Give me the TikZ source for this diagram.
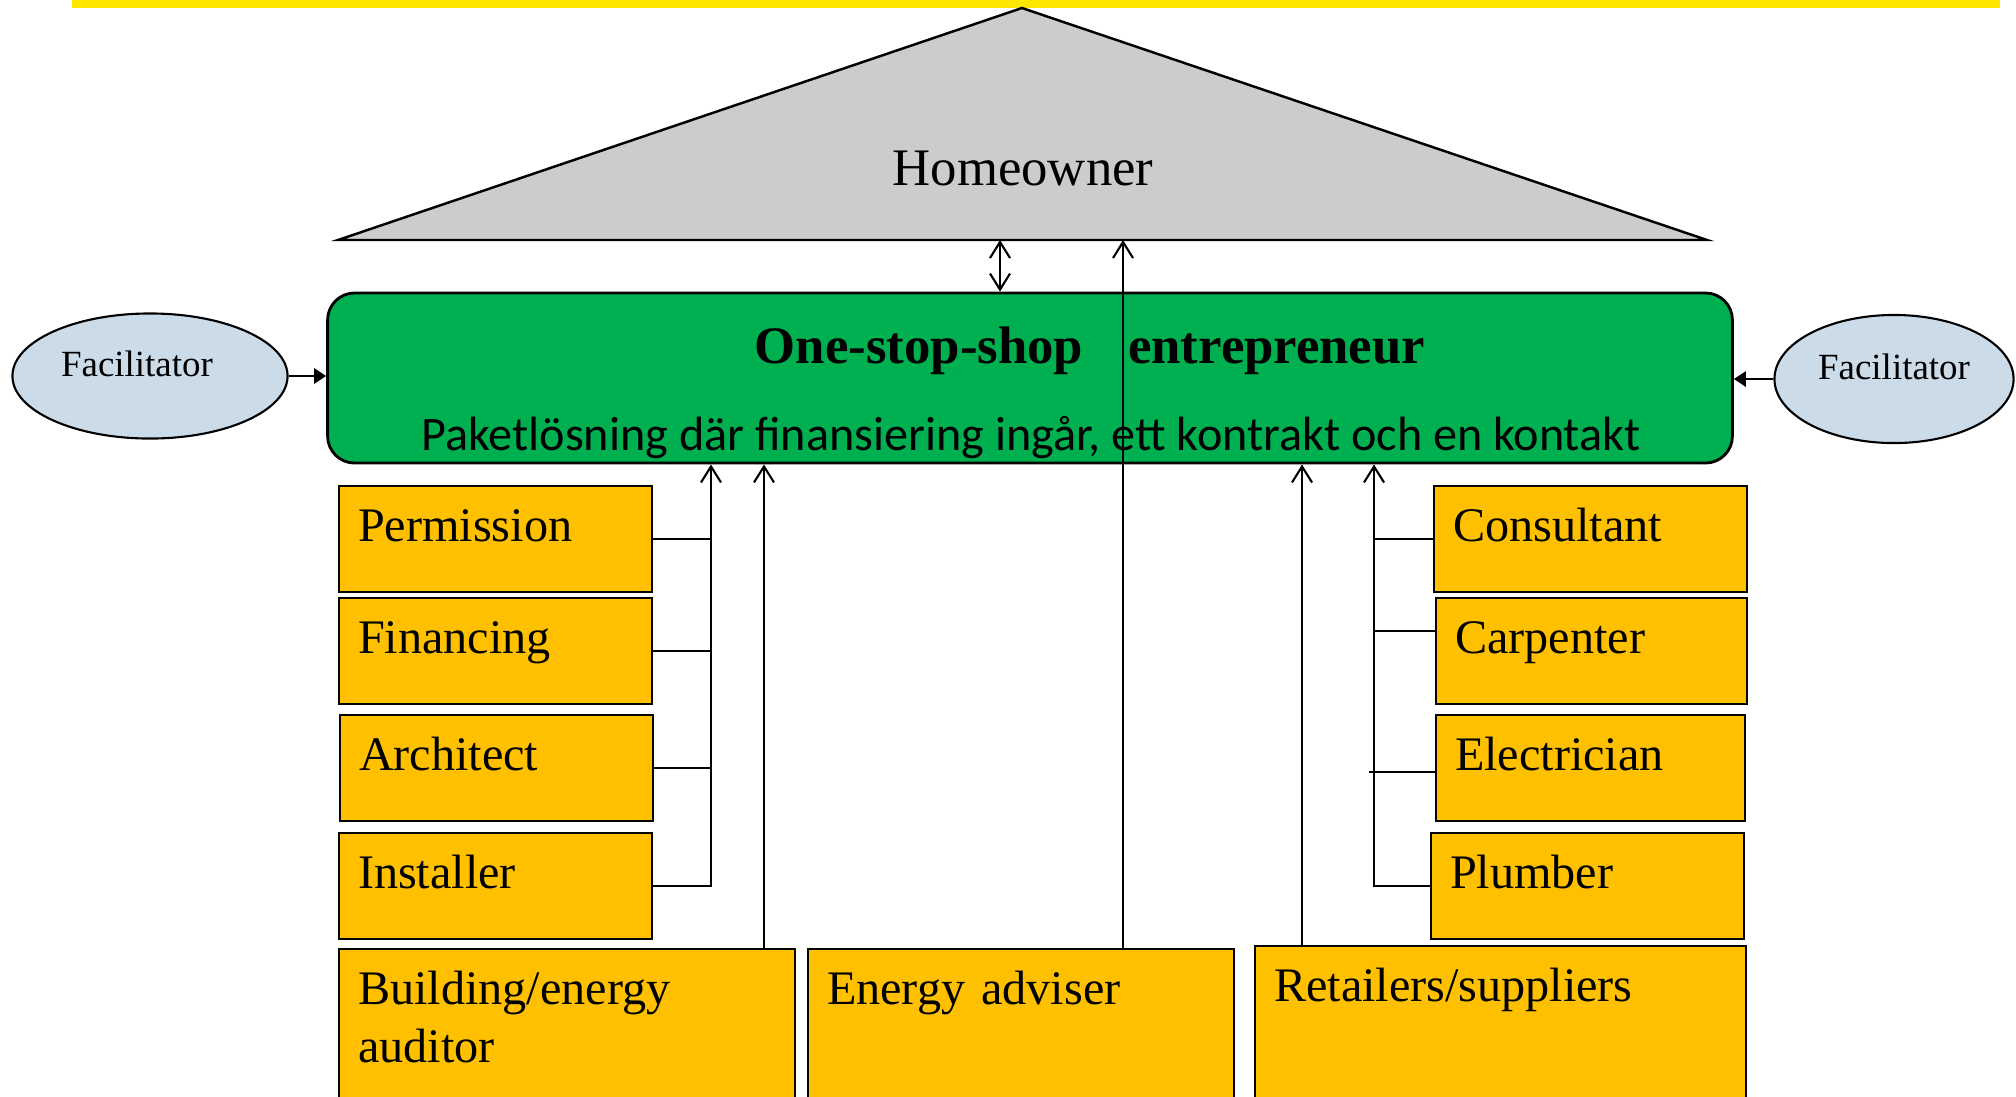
\documentclass[tikz,border=0pt]{standalone}
\usepackage{fontspec}
\setmainfont{Liberation Serif}
\newfontfamily\subfont{Carlito}
\usetikzlibrary{shapes.geometric, arrows.meta, positioning}
\definecolor{baryellow}{RGB}{255, 230, 0}
\definecolor{roofgray}{RGB}{204, 204, 204}
\definecolor{shopgreen}{RGB}{0, 176, 80}
\definecolor{actorgold}{RGB}{255, 192, 0}
\definecolor{facblue}{RGB}{204, 219, 232}

\begin{document}
\begin{tikzpicture}[x=0.01cm, y=-0.01cm,
  actor/.style={draw, fill=actorgold, line width=0.6pt, anchor=north west, align=left,
                font=\fontsize{13.7}{16.5}\selectfont, inner xsep=0.19cm, inner ysep=0pt,
                text height=0.55cm},
  unitbox/.style={actor, text width=2.75cm, text depth=0.51cm},
  widebox/.style={actor, text depth=0.99cm},
  shop/.style={draw, fill=shopgreen, rounded corners=0.27cm, line width=0.8pt,
               minimum width=14.04cm, minimum height=1.70cm},
  fac/.style={draw, ellipse, fill=facblue, line width=0.6pt, inner sep=0pt,
              font=\fontsize{10.5}{12}\selectfont, text height=0.27cm, text depth=0.27cm},
  link/.style={line width=0.6pt},
  uparrow/.style={link, -{Straight Barb[length=0.16cm, width=0.2cm]}},
  twoway/.style={link, {Straight Barb[length=0.16cm, width=0.2cm]}-{Straight Barb[length=0.16cm, width=0.2cm]}},
  push/.style={line width=0.8pt, -{Triangle[length=0.12cm, width=0.15cm]}},
]
\useasboundingbox (0,0) rectangle (2016,1096);
\fill[baryellow] (72,0) rectangle (2000,8);

% roof
\draw[fill=roofgray, line width=0.7pt] (1022,8) -- (1707,240) -- (338,240) -- cycle;
\node[font=\fontsize{15}{18}\selectfont, anchor=base] (home) at (1023,185) {Homeowner};

% one-stop-shop
\node[shop] (oss) at (1030,378) {};
\node[font=\bfseries\fontsize{15}{18}\selectfont, anchor=base] (osstitle) at (1090,363)
  {One-stop-shop\hspace{0.45cm}entrepreneur};
\node[font=\subfont\fontsize{13.7}{16}\selectfont, anchor=base] (osssub) at (1031,450)
  {Paketlösning där finansiering ingår, ett kontrakt och en kontakt};

\node[fac, minimum width=2.75cm, minimum height=1.25cm] (facL) at (150,376) {Facilitator\rule{0.26cm}{0pt}};
\node[fac, minimum width=2.39cm, minimum height=1.28cm] (facR) at (1894,379) {Facilitator};

% actors
\node[unitbox] (perm) at (338,485) {Permission};
\node[unitbox] (fin)  at (338,597) {Financing};
\node[unitbox] (arch) at (339,714) {Architect};
\node[unitbox] (inst) at (338,832) {Installer};
\node[unitbox] (cons) at (1433,485) {Consultant};
\node[unitbox, text width=2.73cm] (carp) at (1435,597) {Carpenter};
\node[unitbox, text width=2.71cm] (elec) at (1435,714) {Electrician};
\node[unitbox] (plum) at (1430,832) {Plumber};
\node[widebox, text width=4.18cm] (aud) at (338,948) {Building/energy\\auditor};
\node[widebox, text width=3.88cm] (adv) at (807,948) {Energy adviser};
\node[widebox, text width=4.53cm] (ret) at (1254,945) {Retailers/suppliers};

% connectors
\coordinate (hA) at (1000,240);
\coordinate (hB) at (1123,240);
\coordinate (busL) at (711,0);
\coordinate (busR) at (1374,0);
\coordinate (audUp) at (764,0);
\coordinate (retUp) at (1302,0);

\draw[twoway] (oss.north -| hA) -- (hA);
\draw[uparrow] (adv.north -| hB) -- (hB);

\draw[uparrow] (inst.east) -| (oss.south -| busL);
\foreach \b in {perm, fin, arch}
  \draw[link] (\b.east) -- (\b.east -| busL);
\draw[uparrow] (plum.west) -| (oss.south -| busR);
\draw[link] (cons.west) -- (cons.west -| busR);
\draw[link] ([yshift=0.2cm]carp.west) -- ([yshift=0.2cm]carp.west -| busR);
\draw[link] ([yshift=-0.04cm]elec.west) -- ([xshift=-0.05cm,yshift=-0.04cm]elec.west -| busR);

\draw[uparrow] (aud.north -| audUp) -- (oss.south -| audUp);
\draw[uparrow] (ret.north -| retUp) -- (oss.south -| retUp);

\draw[push] (facL.east) -- (oss.west |- facL.east);
\draw[push] (facR.west) -- (oss.east |- facR.west);
\end{tikzpicture}
\end{document}
